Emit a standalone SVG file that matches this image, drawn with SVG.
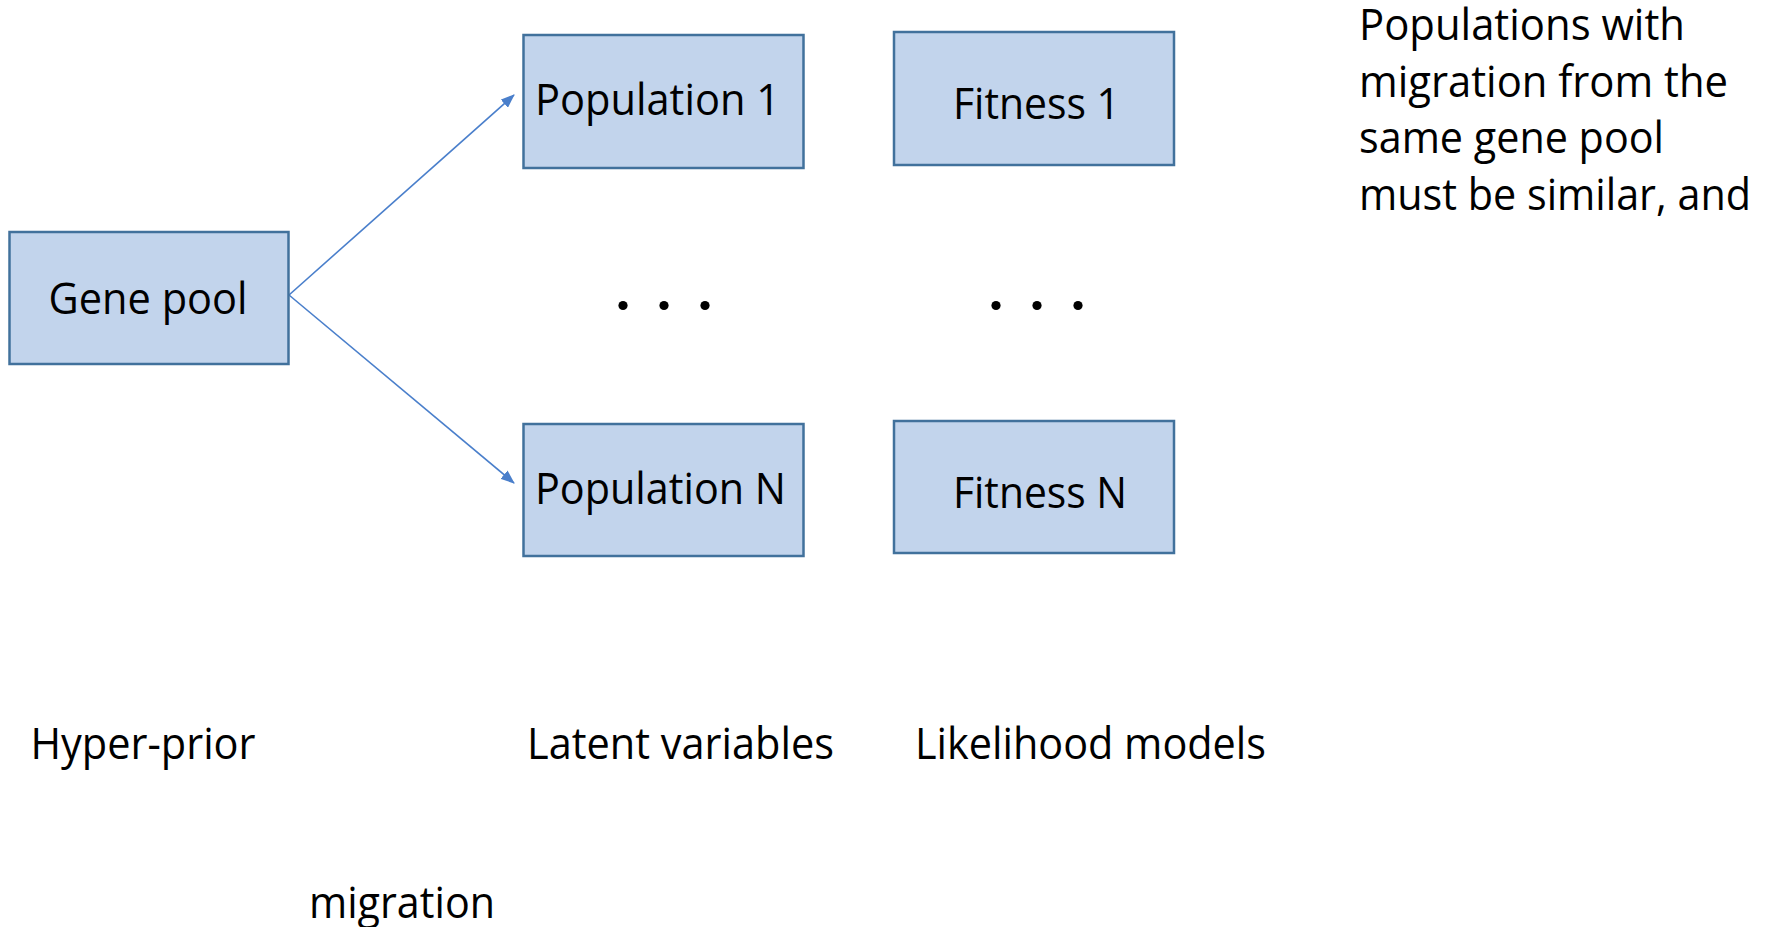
<svg xmlns="http://www.w3.org/2000/svg" width="1773" height="927" viewBox="0 0 1773 927">
<defs>
<style>
.box{fill:#C2D4EC;stroke:#41719C;stroke-width:2.5}
.t{font-family:"Open Sans","Noto Sans",sans-serif;font-size:43px;fill:#000}
.conn{stroke:#4A7FCB;stroke-width:1.6;fill:none}
</style>
<marker id="ah" markerWidth="14" markerHeight="11" refX="13" refY="5.5" orient="auto" markerUnits="userSpaceOnUse" viewBox="0 0 14 11">
<path d="M0,0 L14,5.5 L0,11 z" fill="#4A7FCB"/>
</marker>
</defs>
<rect width="1773" height="927" fill="#fff"/>
<g id="connectors">
<line class="conn" x1="289" y1="295" x2="514" y2="95" marker-end="url(#ah)"/>
<line class="conn" x1="289" y1="295" x2="514" y2="483" marker-end="url(#ah)"/>
</g>
<g id="gene-pool">
<rect class="box" x="9.5" y="232" width="279" height="132"/>
<text class="t" x="48.6" y="314" textLength="199" lengthAdjust="spacingAndGlyphs">Gene pool</text>
</g>
<g id="population-1">
<rect class="box" x="523.5" y="35" width="280" height="133"/>
<text class="t" x="535" y="115" textLength="245" lengthAdjust="spacingAndGlyphs">Population 1</text>
</g>
<g id="fitness-1">
<rect class="box" x="894" y="32" width="280" height="133"/>
<text class="t" x="953" y="119" textLength="167" lengthAdjust="spacingAndGlyphs">Fitness 1</text>
</g>
<g id="population-n">
<rect class="box" x="523.5" y="424" width="280" height="132"/>
<text class="t" x="535" y="504" textLength="251" lengthAdjust="spacingAndGlyphs">Population N</text>
</g>
<g id="fitness-n">
<rect class="box" x="894" y="421" width="280" height="132"/>
<text class="t" x="953" y="508" textLength="174" lengthAdjust="spacingAndGlyphs">Fitness N</text>
</g>
<g id="dots-1" fill="#000">
<circle cx="623" cy="305.5" r="4.6"/>
<circle cx="664" cy="305.5" r="4.6"/>
<circle cx="705" cy="305.5" r="4.6"/>
</g>
<g id="dots-2" fill="#000">
<circle cx="996" cy="305.5" r="4.6"/>
<circle cx="1037" cy="305.5" r="4.6"/>
<circle cx="1078" cy="305.5" r="4.6"/>
</g>
<g id="labels">
<text class="t" x="30.5" y="759" textLength="225" lengthAdjust="spacingAndGlyphs">Hyper-prior</text>
<text class="t" x="527" y="759" textLength="307" lengthAdjust="spacingAndGlyphs">Latent variables</text>
<text class="t" x="915" y="759" textLength="351" lengthAdjust="spacingAndGlyphs">Likelihood models</text>
<text class="t" x="309" y="918" textLength="186" lengthAdjust="spacingAndGlyphs">migration</text>
</g>
<g id="note">
<text class="t" x="1359" y="40" textLength="326" lengthAdjust="spacingAndGlyphs">Populations with</text>
<text class="t" x="1359" y="96.5" textLength="369" lengthAdjust="spacingAndGlyphs">migration from the</text>
<text class="t" x="1359" y="153" textLength="305" lengthAdjust="spacingAndGlyphs">same gene pool</text>
<text class="t" x="1359" y="209.5" textLength="392" lengthAdjust="spacingAndGlyphs">must be similar, and</text>
</g>
</svg>
